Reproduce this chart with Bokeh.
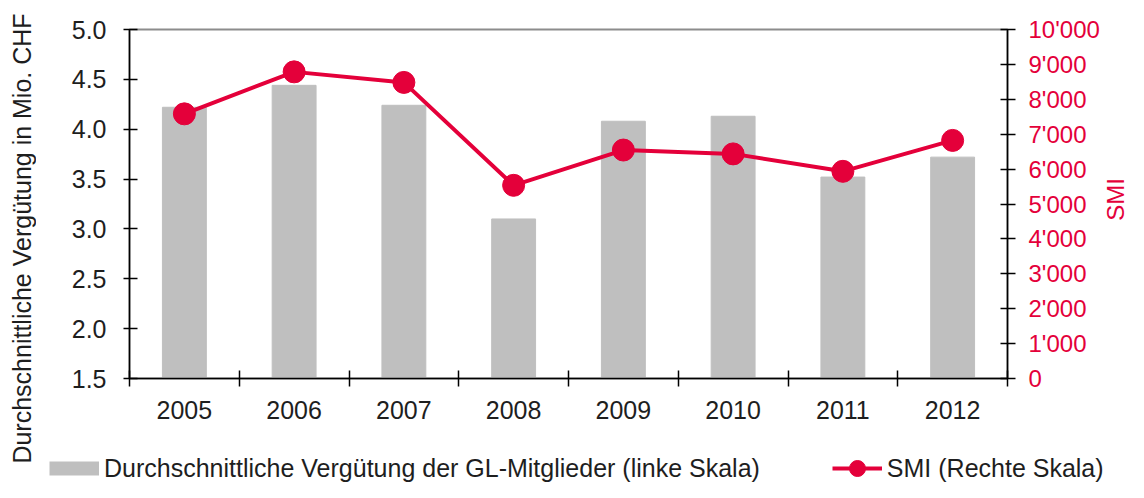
import math
from bokeh.plotting import figure
from bokeh.layouts import row, column
from bokeh.models import (Range1d, LinearAxis, FixedTicker, Legend, LegendItem,
                          NumeralTickFormatter, ColumnDataSource)
from bokeh.core.properties import value
from bokeh.embed import file_html
from bokeh.resources import INLINE

# ---- data ----
years = ["2005", "2006", "2007", "2008", "2009", "2010", "2011", "2012"]
verguetung = [4.22, 4.44, 4.24, 3.10, 4.08, 4.13, 3.52, 3.72]
smi = [7583, 8786, 8484, 5535, 6546, 6436, 5936, 6822]
left_ticks = [1.5, 2.0, 2.5, 3.0, 3.5, 4.0, 4.5, 5.0]
right_ticks = [0, 1000, 2000, 3000, 4000, 5000, 6000, 7000, 8000, 9000, 10000]
right_tick_labels = ["0", "1'000", "2'000", "3'000", "4'000", "5'000",
                     "6'000", "7'000", "8'000", "9'000", "10'000"]
left_title = "Durchschnittliche Vergütung in Mio. CHF"
right_title = "SMI"
legend_labels = ["Durchschnittliche Vergütung der GL-Mitglieder (linke Skala)",
                 "SMI (Rechte Skala)"]

RED = "#E4003A"
GRAY = "#BFBFBF"
TXT = "#1E1E1E"
FONT = "Liberation Sans"
FS = "25px"

H = 482
TITLE_W = 36
SMI_W = 26
MAIN_W = 1128 - TITLE_W - SMI_W
MAIN_H = 442
LEG_H = H - MAIN_H


def strip(width, height, xr=None, yr=None):
    f = figure(width=width, height=height, output_backend="svg", toolbar_location=None,
               x_range=xr or Range1d(0, width), y_range=yr or Range1d(0, height), min_border=0)
    f.axis.visible = False
    f.grid.visible = False
    f.outline_line_color = None
    f.background_fill_color = "white"
    f.border_fill_color = "white"
    return f


xc = [i + 0.5 for i in range(len(years))]
src = ColumnDataSource(dict(x=xc, v=verguetung, s=smi, b=[left_ticks[0]] * len(years)))

# ---------------- main chart ----------------
p = figure(width=MAIN_W, height=MAIN_H, output_backend="svg", toolbar_location=None,
           x_range=Range1d(0, len(years)), y_range=Range1d(left_ticks[0], left_ticks[-1]),
           min_border_left=93, min_border_right=93, min_border_top=29, min_border_bottom=64,
           background_fill_color="white", border_fill_color="white")
p.extra_y_ranges = {"smi": Range1d(right_ticks[0], right_ticks[-1])}
p.grid.visible = False
p.outline_line_color = "#8c8c8c"
p.outline_line_width = 2

p.vbar(x="x", top="v", bottom="b", width=0.4, source=src,
       fill_color=GRAY, line_color=GRAY)
p.line(x="x", y="s", source=src, y_range_name="smi", line_color=RED, line_width=4)
p.scatter(x="x", y="s", source=src, y_range_name="smi", size=22,
          fill_color=RED, line_color=RED)

xa = p.xaxis[0]
xa.ticker = FixedTicker(ticks=xc, minor_ticks=list(range(len(years) + 1)))
xa.major_label_overrides = {c: y for c, y in zip(xc, years)}
xa.major_tick_in = 0
xa.major_tick_out = 0
xa.minor_tick_in = 8
xa.minor_tick_out = 8
xa.minor_tick_line_color = "black"
xa.minor_tick_line_width = 1.5
xa.axis_line_color = "black"
xa.axis_line_width = 1.5
xa.major_label_text_font = FONT
xa.major_label_text_font_size = FS
xa.major_label_text_color = TXT
xa.major_label_standoff = 14

ya = p.yaxis[0]
ya.ticker = FixedTicker(ticks=left_ticks)
ya.formatter = NumeralTickFormatter(format="0.0")
ya.major_tick_in = 8
ya.major_tick_out = 6
ya.major_tick_line_color = "black"
ya.major_tick_line_width = 1.5
ya.minor_tick_line_color = None
ya.axis_line_color = "black"
ya.axis_line_width = 1.5
ya.major_label_text_font = FONT
ya.major_label_text_font_size = FS
ya.major_label_text_color = TXT
ya.major_label_standoff = 17

ra = LinearAxis(y_range_name="smi", ticker=FixedTicker(ticks=right_ticks))
ra.major_label_overrides = {t: l for t, l in zip(right_ticks, right_tick_labels)}
ra.major_tick_in = 7
ra.major_tick_out = 8
ra.major_tick_line_color = "black"
ra.major_tick_line_width = 1.5
ra.minor_tick_line_color = None
ra.axis_line_color = "black"
ra.axis_line_width = 1.5
ra.major_label_text_font = FONT
ra.major_label_text_font_size = "24px"
ra.major_label_text_color = RED
ra.major_label_standoff = 13
p.add_layout(ra, "right")

# ---------------- axis title strips ----------------
t = strip(TITLE_W, H)
t.text(x=[21], y=[H - 238], text=[left_title], angle=math.pi / 2,
       text_align="center", text_baseline="middle",
       text_font=value(FONT), text_font_size=FS, text_color=TXT)

t2 = strip(SMI_W, MAIN_H)
t2.text(x=[13], y=[MAIN_H - 199], text=[right_title], angle=math.pi / 2,
        text_align="center", text_baseline="middle",
        text_font=value(FONT), text_font_size="24px", text_color=RED)

# ---------------- legend strip ----------------
# same series drawn again, but the strip's view window shows none of them;
# they only provide the legend swatches
lf = strip(MAIN_W + SMI_W, LEG_H, xr=Range1d(100, 101), yr=Range1d(100, 101))
sw = lf.line(x="x", y="v", source=src, line_color=GRAY, line_width=14)
l2 = lf.line(x="x", y="s", source=src, line_color=RED, line_width=4)
d2 = lf.scatter(x="x", y="s", source=src, size=22, fill_color=RED, line_color=RED)
lg = Legend(items=[LegendItem(label=legend_labels[0], renderers=[sw]),
                   LegendItem(label=legend_labels[1], renderers=[l2, d2])],
            location=(13, -6), orientation="horizontal", click_policy="none")
lg.border_line_color = None
lg.background_fill_alpha = 0
lg.padding = 0
lg.margin = 0
lg.spacing = 72
lg.glyph_width = 50
lg.glyph_height = 40
lg.label_standoff = 5
lg.label_text_font = FONT
lg.label_text_font_size = FS
lg.label_text_color = TXT
lf.add_layout(lg, "center")

layout = row(t, column(row(column(p), column(t2)), lf))
open("out.html", "w").write(file_html(layout, INLINE))
